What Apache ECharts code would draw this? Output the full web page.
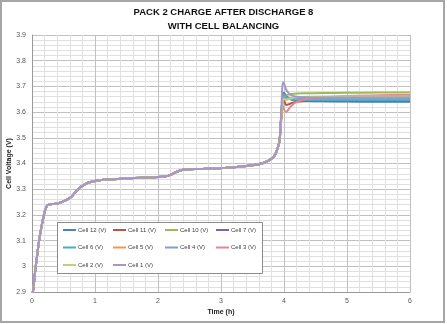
<!DOCTYPE html>
<html><head><meta charset="utf-8">
<script src="https://cdn.jsdelivr.net/npm/echarts@6/dist/echarts.min.js"></script>
<style>html,body{margin:0;padding:0;background:#fff}#c{width:447px;height:324px}</style>
</head><body><div id="c"></div>
<script>
// Shared charge curve (all cells overlap until ~3.93 h)
const baseTime = [0,0.02,0.05,0.08,0.11,0.14,0.18,0.21,0.24,0.27,0.32,0.4,0.47,0.55,0.63,0.7,0.78,0.86,0.93,1.0,1.1,1.25,1.5,1.75,2.0,2.12,2.2,2.28,2.35,2.42,2.5,2.7,3.0,3.2,3.4,3.55,3.65,3.72,3.78,3.83,3.87,3.9,3.93];
const baseVolt = [2.88,2.91,2.98,3.04,3.095,3.14,3.19,3.22,3.236,3.241,3.242,3.244,3.25,3.258,3.272,3.292,3.31,3.322,3.328,3.332,3.336,3.339,3.342,3.345,3.347,3.35,3.356,3.366,3.373,3.377,3.378,3.379,3.382,3.385,3.39,3.395,3.4,3.407,3.415,3.425,3.44,3.46,3.49];
// End-of-charge tails, per cell
const tailTime = [3.96,3.98,4.0,4.03,4.07,4.12,4.2,4.35,4.6,5.0,5.5,6.0];
const cell12 = [3.60,3.66,3.675,3.665,3.655,3.648,3.645,3.643,3.642,3.641,3.640,3.640];
const cell11 = [3.59,3.645,3.645,3.628,3.63,3.635,3.64,3.643,3.645,3.645,3.645,3.645];
const cell10 = [3.60,3.65,3.66,3.665,3.668,3.67,3.672,3.673,3.674,3.675,3.676,3.676];
const cell7  = [3.60,3.655,3.665,3.66,3.655,3.652,3.65,3.65,3.65,3.65,3.65,3.65];
const cell6  = [3.60,3.66,3.668,3.66,3.653,3.65,3.648,3.647,3.647,3.647,3.647,3.647];
const cell5  = [3.59,3.645,3.652,3.65,3.652,3.653,3.654,3.654,3.654,3.654,3.654,3.654];
const cell4  = [3.60,3.655,3.66,3.655,3.652,3.652,3.652,3.652,3.652,3.652,3.652,3.652];
const cell3  = [3.58,3.625,3.61,3.60,3.61,3.625,3.64,3.65,3.658,3.663,3.666,3.667];
const cell2  = [3.59,3.645,3.65,3.648,3.65,3.655,3.658,3.66,3.661,3.661,3.661,3.661];
const cell1  = [3.62,3.715,3.712,3.69,3.675,3.665,3.66,3.658,3.657,3.657,3.657,3.657];

const seriesNames = ['Cell 12 (V)','Cell 11 (V)','Cell 10 (V)','Cell 7 (V)','Cell 6 (V)','Cell 5 (V)','Cell 4 (V)','Cell 3 (V)','Cell 2 (V)','Cell 1 (V)'];
const tails = [cell12,cell11,cell10,cell7,cell6,cell5,cell4,cell3,cell2,cell1];
const colors = ['#4F81BD','#C0504D','#9BBB59','#8064A2','#4BACC6','#F79646','#7F9FD5','#E08A88','#B8D57A','#A896C8'];

const xTicks = [0,1,2,3,4,5,6];
const yMin = 2.9, yMax = 3.9;

function build(tail){
  const d = baseTime.map((t,i)=>[t,baseVolt[i]]);
  tailTime.forEach((t,i)=>d.push([t,tail[i]]));
  return d;
}

const font = 'Liberation Sans';
const series = seriesNames.map((n,i)=>({
  name:n, type:'line', data:build(tails[i]), showSymbol:false, symbol:'none',
  smooth:0.3, lineStyle:{width:2,color:colors[i]}, itemStyle:{color:colors[i]}, z:2
}));

const legendCols = [
  ['Cell 12 (V)','Cell 6 (V)','Cell 2 (V)'],
  ['Cell 11 (V)','Cell 5 (V)','Cell 1 (V)'],
  ['Cell 10 (V)','Cell 4 (V)'],
  ['Cell 7 (V)','Cell 3 (V)']
];
const legendX = [63,113,165,216];
const legends = legendCols.map((col,i)=>({
  data:col, orient:'vertical', left:legendX[i], top:225, itemGap:7.5,
  icon:'rect', itemWidth:13, itemHeight:2, selectedMode:false, padding:0,
  textStyle:{fontFamily:font,fontSize:6,color:'#404040',lineHeight:10, padding:[0,0,0,-3]}, z:5
}));

const chart = echarts.init(document.getElementById('c'),null,{renderer:'canvas'});
chart.setOption({
  animation:false,
  backgroundColor:'#fff',
  title:{text:'PACK 2 CHARGE AFTER DISCHARGE 8\nWITH CELL BALANCING', left:'center', top:1,
    textStyle:{fontFamily:font,fontSize:9.5,fontWeight:'bold',color:'#111',lineHeight:13.5}},
  legend:legends,
  graphic:{elements:[
    {type:'rect', z:100, silent:true, shape:{x:1,y:1,width:443,height:321}, style:{fill:'none',stroke:'#a6a6a6',lineWidth:2}},
    {type:'rect', z:3, silent:true, shape:{x:57.5,y:222.5,width:205,height:51}, style:{fill:'#fff',stroke:'#8c8c8c',lineWidth:1}}
  ]},
  grid:{left:32,right:37,top:35,bottom:32,outerBoundsMode:'none',containLabel:false},
  xAxis:{type:'value',min:xTicks[0],max:xTicks[xTicks.length-1],interval:1,
    name:'Time (h)',nameLocation:'middle',nameGap:17,nameMoveOverlap:false,
    nameTextStyle:{fontFamily:font,fontSize:7,fontWeight:'bold',color:'#222'},
    axisLine:{lineStyle:{color:'#999'}},axisTick:{show:false},
    axisLabel:{fontFamily:font,fontSize:7,color:'#555',margin:6},
    splitLine:{show:true,lineStyle:{color:'#c0c0c0',width:1}},
    minorTick:{show:false,splitNumber:5},
    minorSplitLine:{show:true,lineStyle:{color:'#e0e0e0',width:1}}},
  yAxis:{type:'value',min:yMin,max:yMax,interval:0.1,
    name:'Cell Voltage (V)',nameLocation:'middle',nameGap:19,nameMoveOverlap:false,
    nameTextStyle:{fontFamily:font,fontSize:7,fontWeight:'bold',color:'#222'},
    axisLine:{show:true,lineStyle:{color:'#999'}},axisTick:{show:false},
    axisLabel:{fontFamily:font,fontSize:7,color:'#555',margin:6,
      formatter:v=>String(Math.round(v*10)/10)},
    splitLine:{show:true,lineStyle:{color:'#c0c0c0',width:1}},
    minorTick:{show:false,splitNumber:5},
    minorSplitLine:{show:true,lineStyle:{color:'#e0e0e0',width:1}}},
  series:series
});
</script></body></html>
